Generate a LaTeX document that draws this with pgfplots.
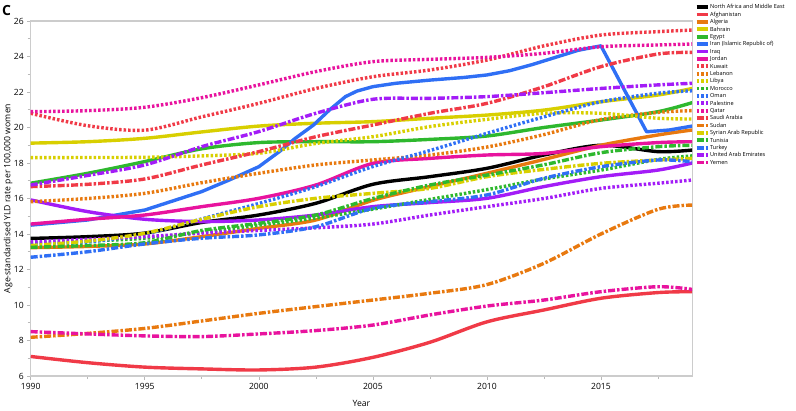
\documentclass[border=0pt]{standalone}
\usepackage{fontspec}
\setmainfont{Open Sans}
\usepackage{pgfplots}
\usepackage{pgfplotstable}
\pgfplotsset{compat=1.18}

\definecolor{cblack}{HTML}{000000}
\definecolor{cred}{HTML}{F03A47}
\definecolor{corange}{HTML}{E8790F}
\definecolor{cyellow}{HTML}{D8CF00}
\definecolor{cgreen}{HTML}{2EB82E}
\definecolor{cblue}{HTML}{2F6FF5}
\definecolor{cpurple}{HTML}{A31CF7}
\definecolor{cmagenta}{HTML}{E8139E}

% age-standardised YLD rate, women
\pgfplotstableread{
year   NAME  AFG   DZA   BHR   EGY   IRQ   JOR   KWT   LBN   LBY   MAR   OMN   PSE   QAT   SAU   SDN   SYR   TUN   TUR   ARE   YEM
1990   13.75 7.10  13.23 19.12 16.86 15.92 14.56 20.80 15.82 18.30 13.50 13.38 13.55 20.89 16.67 8.18  13.35 13.25 12.69 16.76 8.50
1992.5 13.85 6.75  13.30 19.20 17.42 15.26 14.83 20.10 16.00 18.31 13.60 13.55 13.70 20.95 16.80 8.40  13.60 13.35 13.00 17.30 8.37
1995   14.05 6.50  13.44 19.39 18.08 14.83 15.07 19.85 16.29 18.32 13.76 14.00 13.85 21.14 17.10 8.68  14.04 13.51 13.44 17.89 8.26
1997.5 14.65 6.40  13.85 19.75 18.80 14.70 15.54 20.60 16.89 18.40 14.10 14.85 14.05 21.68 17.89 9.10  14.83 14.20 13.76 18.92 8.22
2000   15.07 6.34  14.32 20.08 19.15 14.79 16.01 21.36 17.42 18.55 14.50 15.72 14.20 22.40 18.64 9.53  15.54 14.60 13.95 19.77 8.37
2002.5 15.73 6.50  14.79 20.24 19.20 15.07 16.76 22.20 17.89 19.10 14.90 16.67 14.35 23.15 19.48 9.91  16.01 15.07 14.41 20.80 8.56
2005   16.80 7.05  15.90 20.33 19.20 15.54 17.98 22.86 18.17 19.48 15.40 17.80 14.56 23.71 20.14 10.28 16.29 16.00 15.45 21.59 8.87
2007.5 17.23 7.90  16.67 20.52 19.33 15.77 18.26 23.24 18.45 20.05 15.95 18.70 15.07 23.84 20.80 10.66 16.57 16.76 15.82 21.64 9.44
2010   17.70 9.05  17.42 20.70 19.52 16.01 18.45 23.80 18.90 20.46 16.50 19.67 15.54 23.95 21.36 11.15 17.23 17.32 16.20 21.74 9.94
2012.5 18.45 9.72  18.20 20.98 20.00 16.67 18.54 24.60 19.60 20.80 17.10 20.60 16.00 24.18 22.30 12.35 17.64 17.90 17.14 21.96 10.28
2015   19.00 10.38 19.00 21.45 20.42 17.23 18.92 25.21 20.45 20.80 17.60 21.45 16.57 24.55 23.43 14.00 17.98 18.58 17.79 22.20 10.75
2017.5 18.64 10.70 19.58 21.83 20.89 17.60 19.15 25.40 20.85 20.52 18.20 21.93 16.86 24.65 24.14 15.39 18.17 18.92 18.17 22.40 11.03
2019   18.73 10.75 19.86 22.20 21.40 18.00 19.20 25.49 20.95 20.48 18.40 22.07 17.04 24.70 24.23 15.63 18.26 19.00 18.07 22.49 10.88
}\datatable

% Iran has a sharp peak and drop, so it gets its own denser table
\pgfplotstableread{
year   val
1990   14.50
1992.5 14.79
1995   15.35
1997.5 16.39
1998.7 17.04
2000   17.79
2000.9 18.64
2001.6 19.39
2002.4 20.14
2003.1 20.99
2003.8 21.74
2004.3 22.05
2005   22.30
2006   22.49
2007.5 22.67
2009   22.82
2010   22.96
2011   23.20
2012   23.55
2013   23.95
2014   24.35
2015   24.60
2017   19.76
2018   19.86
2019   20.08
}\iran

\pgfplotsset{
  sol/.style={solid, line width=3.4bp},
  dot/.style={line width=3.4bp, dash pattern=on 2.5bp off 2bp},
  dd/.style={line width=3.4bp, dash pattern=on 7bp off 2bp on 2.5bp off 2bp},
}

\begin{document}
\begin{tikzpicture}
\useasboundingbox (0,0) rectangle (796bp,411bp);
\node[anchor=north west, inner sep=0pt, font=\bfseries\fontsize{14}{14}\selectfont] at (2bp,406bp) {C};
\begin{axis}[
  at={(30.7bp,35bp)}, anchor=south west,
  scale only axis, width=661.5bp, height=355bp,
  xmin=1990, xmax=2019, ymin=6, ymax=26,
  xtick={1990,1995,...,2015}, minor xtick={1992.5,1997.5,...,2017.5},
  ytick={6,8,...,26}, minor ytick={7,9,...,25},
  xtick pos=bottom, ytick pos=left,
  tick align=outside, major tick length=3.5bp, minor tick length=3bp,
  axis line style={draw=gray!40, line width=1.2bp},
  tick style={draw=gray!55, line width=0.6bp},
  /pgf/number format/assume math mode=true,
  xticklabel style={/pgf/number format/1000 sep={}},
  ticklabel style={font=\fontsize{8.6}{9.5}\selectfont},
  xlabel={Year}, ylabel={Age-standardised YLD rate per 100,000 women},
  label style={font=\fontsize{8.7}{9.5}\selectfont},
  xlabel style={at={(axis description cs:0.5,-0.076)}, anchor=center},
  ylabel style={at={(axis description cs:-0.0343,0.5)}, anchor=center},
  legend style={at={(1.0035,1.05)}, anchor=north west, draw=none, fill=none,
    inner sep=0pt, row sep=0pt,
    font=\fontsize{5.6}{6}\selectfont,
    nodes={inner sep=0.6bp, text height=4.8bp, text depth=1.4bp}},
  legend cell align=left,
  legend image code/.code={\draw[#1, line width=3.8bp] (0bp,0bp) -- (11bp,0bp);},
  every axis plot/.append style={smooth, tension=0.5},
]
\addplot[cblack, sol] table[x=year, y=NAME] {\datatable};
\addlegendentry{North Africa and Middle East}
\addplot[cred, sol] table[x=year, y=AFG] {\datatable};
\addlegendentry{Afghanistan}
\addplot[corange, sol] table[x=year, y=DZA] {\datatable};
\addlegendentry{Algeria}
\addplot[cyellow, sol] table[x=year, y=BHR] {\datatable};
\addlegendentry{Bahrain}
\addplot[cgreen, sol] table[x=year, y=EGY] {\datatable};
\addlegendentry{Egypt}
\addplot[cblue, sol, sharp plot, line join=round] table[x=year, y=val] {\iran};
\addlegendentry{Iran (Islamic Republic of)}
\addplot[cpurple, sol] table[x=year, y=IRQ] {\datatable};
\addlegendentry{Iraq}
\addplot[cmagenta, sol] table[x=year, y=JOR] {\datatable};
\addlegendentry{Jordan}
\addplot[cred, dot] table[x=year, y=KWT] {\datatable};
\addlegendentry{Kuwait}
\addplot[corange, dot] table[x=year, y=LBN] {\datatable};
\addlegendentry{Lebanon}
\addplot[cyellow, dot] table[x=year, y=LBY] {\datatable};
\addlegendentry{Libya}
\addplot[cgreen, dot] table[x=year, y=MAR] {\datatable};
\addlegendentry{Morocco}
\addplot[cblue, dot] table[x=year, y=OMN] {\datatable};
\addlegendentry{Oman}
\addplot[cpurple, dot] table[x=year, y=PSE] {\datatable};
\addlegendentry{Palestine}
\addplot[cmagenta, dot] table[x=year, y=QAT] {\datatable};
\addlegendentry{Qatar}
\addplot[cred, dd] table[x=year, y=SAU] {\datatable};
\addlegendentry{Saudi Arabia}
\addplot[corange, dd] table[x=year, y=SDN] {\datatable};
\addlegendentry{Sudan}
\addplot[cyellow, dd] table[x=year, y=SYR] {\datatable};
\addlegendentry{Syrian Arab Republic}
\addplot[cgreen, dd] table[x=year, y=TUN] {\datatable};
\addlegendentry{Tunisia}
\addplot[cblue, dd] table[x=year, y=TUR] {\datatable};
\addlegendentry{Turkey}
\addplot[cpurple, dd] table[x=year, y=ARE] {\datatable};
\addlegendentry{United Arab Emirates}
\addplot[cmagenta, dd] table[x=year, y=YEM] {\datatable};
\addlegendentry{Yemen}
\end{axis}
\end{tikzpicture}
\end{document}
